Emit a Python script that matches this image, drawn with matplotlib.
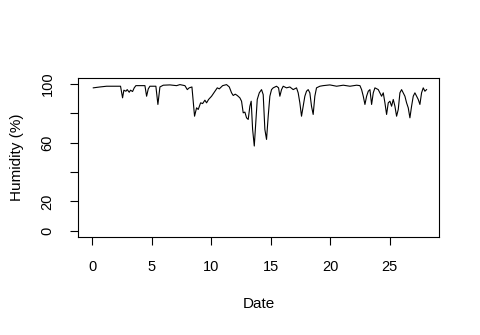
import matplotlib
matplotlib.use("Agg")
import matplotlib.pyplot as plt

# humidity readings (day, %)
days = [
    0.09, 0.65, 1.21, 1.77, 2.38, 2.55, 2.66, 2.83, 2.94, 3.11, 3.22, 3.39,
    3.53, 3.67, 4.01, 4.43, 4.57, 4.71, 4.85, 5.35, 5.52, 5.69, 5.97, 6.53,
    7.09, 7.37, 7.79, 7.99, 8.15, 8.38, 8.49, 8.60, 8.77, 8.91, 9.11, 9.28,
    9.47, 9.61, 9.78, 10.03, 10.31, 10.51, 10.68, 10.96, 11.29, 11.52, 11.71,
    11.85, 12.02, 12.19, 12.41, 12.55, 12.69, 12.83, 12.97, 13.11, 13.25,
    13.36, 13.48, 13.62, 13.74, 13.87, 14.04, 14.23, 14.37, 14.51, 14.65,
    14.79, 14.93, 15.07, 15.21, 15.49, 15.66, 15.77, 15.91, 16.05, 16.33,
    16.61, 16.89, 17.17, 17.31, 17.45, 17.59, 17.73, 17.87, 18.01, 18.15,
    18.29, 18.43, 18.57, 18.71, 18.85, 19.13, 19.41, 19.97, 20.54, 21.10,
    21.66, 22.22, 22.50, 22.64, 22.78, 22.92, 23.06, 23.20, 23.34, 23.48,
    23.62, 23.76, 24.04, 24.32, 24.46, 24.60, 24.74, 24.88, 25.02, 25.16,
    25.30, 25.44, 25.58, 25.72, 25.86, 26.00, 26.14, 26.28, 26.42, 26.56,
    26.70, 26.84, 26.98, 27.12, 27.26, 27.40, 27.54, 27.68, 27.82, 27.96,
    28.10,
]
humidity = [
    97.3, 97.9, 98.4, 98.4, 98.4, 90.5, 95.7, 95.0, 96.1, 94.3, 95.7, 94.8,
    97.3, 98.8, 98.8, 98.8, 91.6, 96.6, 98.4, 98.4, 86.0, 97.9, 99.1, 99.3,
    98.8, 99.5, 98.8, 96.1, 97.3, 97.9, 88.2, 78.0, 83.7, 82.6, 87.1, 86.6,
    88.9, 87.1, 89.4, 91.6, 95.0, 97.3, 96.6, 98.8, 99.5, 97.9, 93.9,
    92.1, 93.0, 92.1, 90.5, 88.2, 80.3, 80.8, 76.9, 75.8, 84.8,
    88.2, 69.0, 57.7, 73.5, 89.4, 93.9, 96.1, 92.7, 69.0, 62.2,
    78.0, 91.6, 96.1, 97.3, 98.4, 97.3, 91.6, 96.1, 98.4, 97.3,
    97.9, 96.1, 97.3, 93.9, 87.1, 78.0, 84.8, 91.6, 95.0, 96.1,
    93.9, 84.8, 79.2, 91.6, 97.3, 98.4, 98.8, 99.3, 98.4, 99.1,
    98.4, 99.1, 98.8, 96.1, 91.6, 86.0, 91.6, 95.0, 96.1, 86.0,
    93.9, 97.3, 96.1, 91.6, 93.9, 87.1, 79.2, 87.1, 88.2, 84.8,
    89.4, 84.8, 78.0, 82.6, 93.9, 96.1, 93.9, 91.6, 87.1, 83.7,
    76.9, 84.8, 91.6, 93.9, 91.6, 89.4, 86.0, 93.9, 97.3, 95.0,
    96.1,
]
x_ticks = [0, 5, 10, 15, 20, 25]
y_ticks = [0, 20, 40, 60, 80, 100]
y_tick_labels = ["0", "20", "", "60", "", "100"]

plt.rcParams["font.family"] = ["Liberation Sans", "DejaVu Sans"]

fig = plt.figure(figsize=(4.8, 3.35), dpi=100)
ax = fig.add_axes([78.3 / 480, 1 - 236.7 / 335, 361 / 480, 158.7 / 335])

ax.plot(days, humidity, color="black", linewidth=0.8)

ax.set_xlim(-1.17, 29.17)
ax.set_ylim(-4, 104)
ax.set_xticks(x_ticks)
ax.set_yticks(y_ticks)
ax.set_yticklabels(y_tick_labels, rotation=90, va="center")

for s in ax.spines.values():
    s.set_linewidth(0.8)
    s.set_color("black")
ax.tick_params(direction="out", length=6, width=0.8, labelsize=10.5, pad=11)

ax.set_xlabel("Date", fontsize=11, labelpad=16)
ax.set_ylabel("Humidity (%)", fontsize=11, labelpad=12)

fig.savefig("out.png", dpi=100)
